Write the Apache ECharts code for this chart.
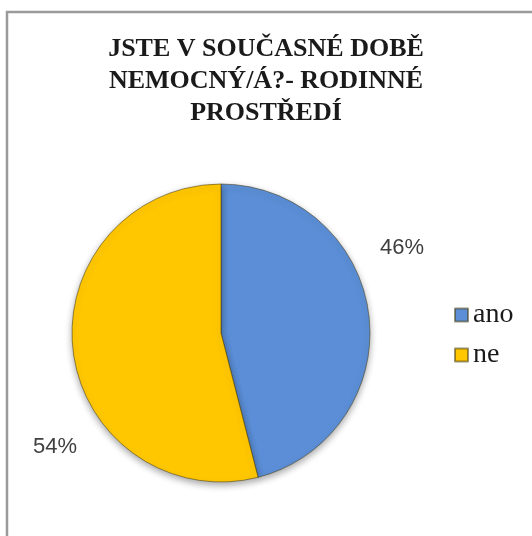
<!DOCTYPE html>
<html>
<head>
<meta charset="utf-8">
<script src="https://cdn.jsdelivr.net/npm/echarts@6/dist/echarts.min.js"></script>
<style>
html,body{margin:0;padding:0;background:#fff;}
#c{width:532px;height:536px;}
</style>
</head>
<body>
<div id="c"></div>
<script>
const titleLines = ['JSTE V SOUČASNÉ DOBĚ', 'NEMOCNÝ/Á?- RODINNÉ', 'PROSTŘEDÍ'];
const categories = ['ano', 'ne'];
const values = [46, 54];
const colors = ['#5B8ED6', '#FFC700'];

const chart = echarts.init(document.getElementById('c'), null, {renderer: 'canvas'});
const labelPos = [{x: 402, y: 248}, {x: 55, y: 447}];

chart.setOption({
  backgroundColor: '#ffffff',
  animation: false,
  graphic: [{
    type: 'rect',
    shape: {x: 7, y: 12, width: 700, height: 700},
    style: {fill: 'none', stroke: '#9a9a9a', lineWidth: 2.5},
    silent: true
  }],
  title: {
    text: titleLines.join('\n'),
    left: 'center',
    top: 28,
    textStyle: {
      fontFamily: 'Liberation Serif',
      fontWeight: 'bold',
      fontSize: 26,
      lineHeight: 32,
      color: '#1a1a1a'
    }
  },
  legend: {
    orient: 'vertical',
    left: 449,
    top: 296,
    itemWidth: 13,
    itemHeight: 13,
    itemGap: 12,
    icon: 'rect',
    data: categories,
    textStyle: {
      fontFamily: 'Liberation Serif',
      fontSize: 28,
      color: '#1a1a1a'
    }
  },
  series: [{
    type: 'pie',
    center: [221, 333],
    radius: 149,
    startAngle: 90,
    clockwise: true,
    data: categories.map((c, i) => ({name: c, value: values[i], itemStyle: {color: colors[i]}})),
    itemStyle: {
      borderColor: 'rgba(70,60,20,0.55)',
      borderWidth: 1,
      shadowColor: 'rgba(0,0,0,0.35)',
      shadowBlur: 7,
      shadowOffsetY: 3
    },
    label: {
      show: true,
      position: 'outside',
      formatter: '{d}%',
      fontFamily: 'Liberation Sans',
      fontSize: 22,
      color: '#404040',
      overflow: 'none',
      width: 80
    },
    labelLine: {show: false},
    labelLayout: function (p) {
      const pos = labelPos[p.dataIndex];
      return {x: pos.x, y: pos.y, align: 'center', verticalAlign: 'middle'};
    },
    emphasis: {disabled: true}
  }]
});
</script>
</body>
</html>
